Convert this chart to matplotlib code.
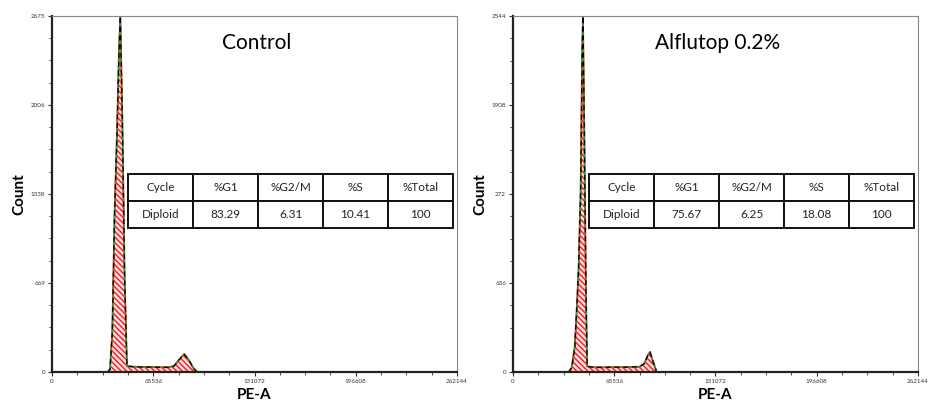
import matplotlib

matplotlib.use("Agg")
import matplotlib.pyplot as plt
from matplotlib.ticker import AutoMinorLocator

plt.rcParams["font.family"] = ["Lato", "DejaVu Sans"]
plt.rcParams["hatch.color"] = "#e8202a"
plt.rcParams["hatch.linewidth"] = 1.0

# PE-A channel positions and counts
ctrl_pos = [36000, 37500, 39000, 40500, 42000, 43300, 44200, 45500, 47000, 48500,
            52000, 58000, 64000, 70000, 75000, 79000, 82000, 85500, 88500, 91500, 93800]
ctrl_count = [0, 20, 300, 1200, 1780, 2400, 2675, 1900, 700, 45,
              40, 38, 37, 36, 35, 45, 90, 135, 90, 30, 0]

alf_pos = [36000, 38000, 40000, 41500, 42500, 43800, 44800, 45300, 46200, 47200, 48000,
           52000, 58000, 64000, 70000, 76000, 82000, 85000, 87300, 88700, 90500, 93000]
alf_count = [0, 30, 180, 500, 750, 1300, 2300, 2544, 1700, 600, 40,
             34, 33, 35, 34, 36, 38, 60, 120, 143, 80, 0]

x_ticks = [0, 65536, 131072, 196608, 262144]
x_ticklabels = ["0", "65536", "131072", "196608", "262144"]
ctrl_yticks = [0, 669, 1338, 2006, 2675]
ctrl_yticklabels = ["0", "669", "1338", "2006", "2675"]
alf_yticks = [0, 636, 1272, 1908, 2544]
alf_yticklabels = ["0", "636", "272", "1908", "2544"]

table_cols = ["Cycle", "%G1", "%G2/M", "%S", "%Total"]
ctrl_row = ["Diploid", "83.29", "6.31", "10.41", "100"]
alf_row = ["Diploid", "75.67", "6.25", "18.08", "100"]

panels = [
    ("Control", ctrl_pos, ctrl_count, ctrl_yticks, ctrl_yticklabels, ctrl_row, 0.0559),
    ("Alflutop 0.2%", alf_pos, alf_count, alf_yticks, alf_yticklabels, alf_row, 0.551),
]

fig = plt.figure(figsize=(9.31, 4.04), dpi=100)

for title, pos, count, yticks, ylabels, row, left in panels:
    ax = fig.add_axes([left, 0.0792, 0.435, 0.881])
    ax.fill_between(pos, count, color="#ffdada", hatch="\\\\\\\\\\\\", edgecolor="#e8202a", linewidth=0.0)
    ax.plot(pos, count, color="#e8202a", linewidth=1.3)
    ax.plot(pos, count, color="#2a9d2a", linewidth=1.0, alpha=0.9)
    ax.plot(pos, count, color="black", linewidth=0.9, linestyle=(0, (4, 3)))
    ax.set_xlim(0, 262144)
    ax.set_ylim(0, yticks[-1])
    ax.set_xticks(x_ticks)
    ax.set_xticklabels(x_ticklabels)
    ax.set_yticks(yticks)
    ax.set_yticklabels(ylabels)
    ax.xaxis.set_minor_locator(AutoMinorLocator(4))
    ax.yaxis.set_minor_locator(AutoMinorLocator(4))
    ax.tick_params(which="major", labelsize=4.5, length=3, width=0.8, colors="#333333", pad=2)
    ax.tick_params(which="minor", length=2, width=0.6, colors="#333333")
    for side in ["left", "bottom"]:
        ax.spines[side].set_linewidth(1.6)
        ax.spines[side].set_color("#222222")
    for side in ["top", "right"]:
        ax.spines[side].set_linewidth(0.8)
        ax.spines[side].set_color("#888888")
    ax.set_xlabel("PE-A", fontsize=11, fontweight="bold", labelpad=3)
    ax.set_ylabel("Count", fontsize=11, fontweight="bold", labelpad=3)
    ax.text(0.506, 0.924, title, transform=ax.transAxes, ha="center", va="center", fontsize=15)
    tbl = ax.table(cellText=[table_cols, row], cellLoc="center",
                   bbox=[0.188, 0.404, 0.802, 0.152])
    tbl.auto_set_font_size(False)
    for cell in tbl.get_celld().values():
        cell.set_linewidth(1.4)
        cell.set_edgecolor("#111111")
        cell.set_facecolor("white")
        cell.get_text().set_fontsize(8.5)
        cell.get_text().set_color("#222222")

fig.savefig("out.png", dpi=100)
